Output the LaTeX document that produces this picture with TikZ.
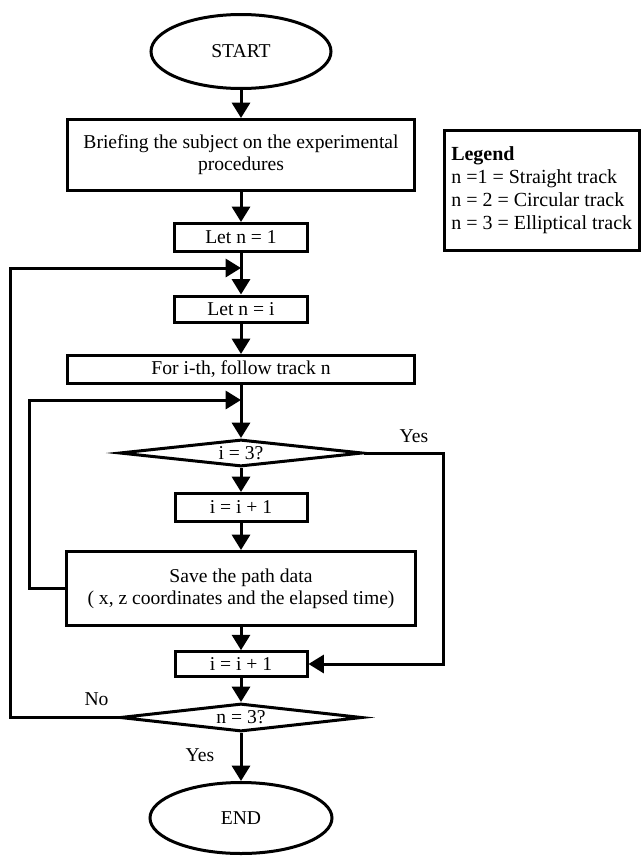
\documentclass[tikz,border=0pt]{standalone}
\usepackage{fontspec}
\setmainfont{Liberation Serif}
\usetikzlibrary{shapes.geometric,arrows.meta}
\newcommand\boxfont{\fontsize{14.7pt}{16.5pt}\selectfont}
\newcommand\legfont{\fontsize{15pt}{17.2pt}\selectfont}
\begin{document}
\begin{tikzpicture}[x=0.75pt,y=-0.75pt,
  base/.style={draw, line width=2.25pt, inner sep=0pt, align=center, font=\boxfont},
  procbox/.style={base, rectangle},
  term/.style={base, ellipse},
  decision/.style={base, diamond, aspect=8},
  conn/.style={line width=2.25pt, -{Triangle[length=11.5pt,width=13.5pt]}},
  lbl/.style={font=\boxfont, inner sep=0pt}]
\useasboundingbox (0,0) rectangle (641,857);

% main column
\node[term, minimum width=135pt, minimum height=55.5pt] (start) at (241,51.5) {START};
\node[procbox, minimum width=260.25pt, minimum height=53.25pt] (brief) at (241,155)
  {Briefing the subject on the experimental\\procedures};
\node[procbox, minimum width=99.75pt, minimum height=21pt] (n1) at (241,237.5) {Let n = 1};
\node[procbox, minimum width=99.75pt, minimum height=19.5pt] (ni) at (241,309) {Let n = i};
\node[procbox, minimum width=260.25pt, minimum height=21pt] (fori) at (241,369.5) {For i-th, follow track n};
\node[decision, minimum width=182.25pt, minimum height=20.25pt] (d1) at (241,453) {i = 3?};
\node[procbox, minimum width=99pt, minimum height=21pt] (ii1) at (241,507.5) {i = i + 1};
\node[procbox, minimum width=261.75pt, minimum height=55.5pt] (save) at (241,588.5)
  {Save the path data\\( x, z coordinates and the elapsed time)};
\node[procbox, minimum width=99pt, minimum height=18.5pt] (ii2) at (241,664) {i = i + 1};
\node[decision, minimum width=181.5pt, minimum height=21pt] (d2) at (241,717.5) {n = 3?};
\node[term, minimum width=136.5pt, minimum height=53.25pt] (end) at (241,818) {END};

% legend
\node[draw, line width=2.25pt, minimum width=146.25pt, minimum height=90pt, inner sep=0pt] (legend) at (542,190.5) {};
\node[anchor=west, align=left, inner sep=0pt, font=\legfont] (legtext) at (451,190.5)
  {\textbf{Legend}\\n =1 = Straight track\\n = 2 = Circular track\\n = 3 = Elliptical track};

% junction coordinates
\coordinate (j1) at (241,268);
\coordinate (j2) at (241,400);
\coordinate (outerL) at (10,0);
\coordinate (innerL) at (29,0);
\coordinate (yesR) at (443,0);

% straight connectors
\draw[conn] (start) -- (brief);
\draw[conn] (brief) -- (n1);
\draw[conn] (n1) -- (ni);
\draw[conn] (ni) -- (fori);
\draw[conn] (fori) -- (d1);
\draw[conn] (d1) -- (ii1);
\draw[conn] (ii1) -- (save);
\draw[conn] (save) -- (ii2);
\draw[conn] (ii2) -- (d2);
\draw[conn] (d2) -- (end);

% loops
\draw[conn] (d2.west) -| (outerL |- j1) -- (j1);
\draw[conn] (save.west) -| (innerL |- j2) -- (j2);
\draw[conn] (d1.east) -| (yesR |- ii2) -- (ii2.east);

% labels
\node[lbl] (yes1) at (414,436) {Yes};
\node[lbl] (no) at (96.5,699) {No};
\node[lbl] (yes2) at (200,755) {Yes};
\end{tikzpicture}
\end{document}
